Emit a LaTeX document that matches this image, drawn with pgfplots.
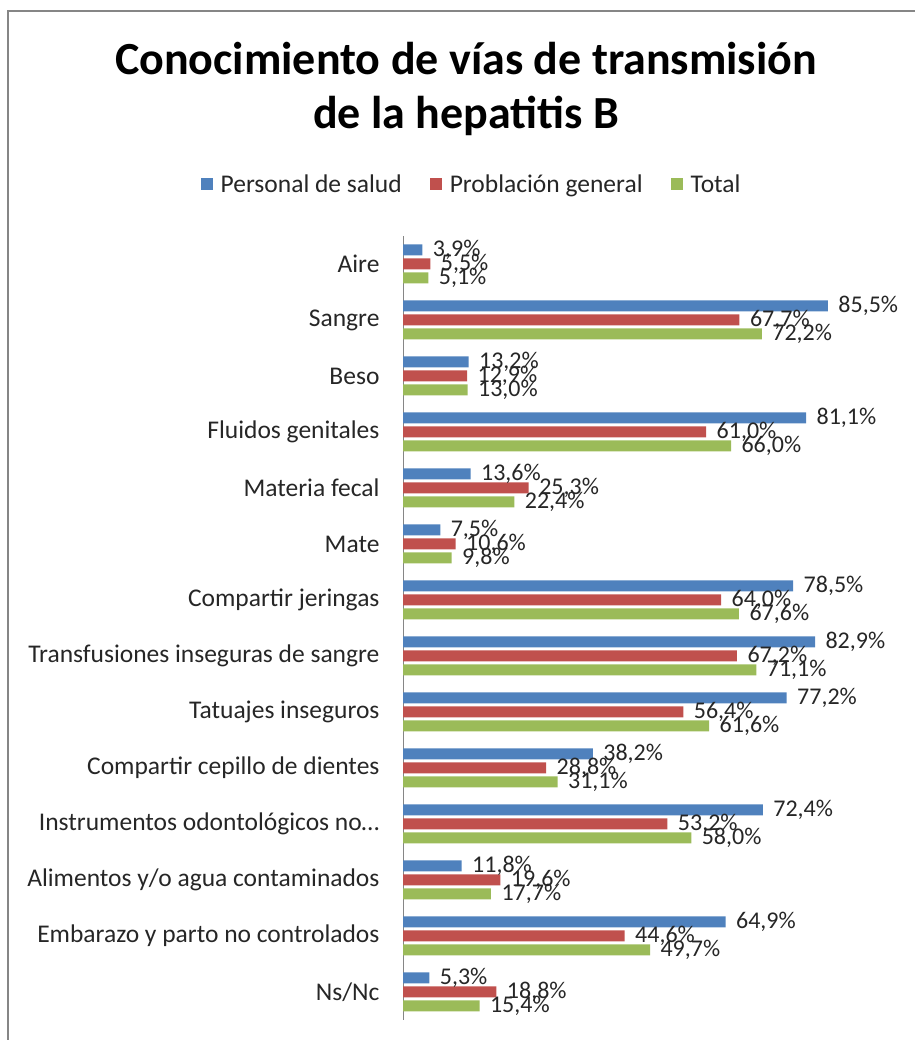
\documentclass[border=0pt]{standalone}
\usepackage{pgfplots}
\pgfplotsset{compat=1.18}
\usepackage{pgfplotstable}
\usepackage{fontspec}
\setmainfont{Carlito}
\definecolor{cblue}{HTML}{4F81BD}
\definecolor{cred}{HTML}{C0504D}
\definecolor{cgreen}{HTML}{9BBB59}
\definecolor{cborder}{HTML}{868686}
\pgfplotstableread{
y pers pob tot
13 3.9 5.5 5.1
12 85.5 67.7 72.2
11 13.2 12.9 13.0
10 81.1 61.0 66.0
9 13.6 25.3 22.4
8 7.5 10.6 9.8
7 78.5 64.0 67.6
6 82.9 67.2 71.1
5 77.2 56.4 61.6
4 38.2 28.8 31.1
3 72.4 53.2 58.0
2 11.8 19.6 17.7
1 64.9 44.6 49.7
0 5.3 18.8 15.4
}\data
\begin{document}
\begin{tikzpicture}[x=1pt,y=1pt]
\path[use as bounding box] (0,0) rectangle (915,1040);
\draw[color=cborder, line width=2pt] (8.3,0) -- (8.3,1029) -- (915,1029);
\node[font=\fontsize{46}{54}\selectfont\bfseries, align=center] at (466,951) {Conocimiento de vías de transmisión\\de la hepatitis B};
\begin{axis}[
  at={(403pt,20pt)}, anchor=south west,
  scale only axis, width=497pt, height=784pt,
  xmin=0, xmax=100, ymin=-0.5, ymax=13.5,
  xbar, bar width=11pt,
  axis x line=none,
  axis y line=left,
  axis line style={-, draw=cborder, line width=1pt},
  ytick={0,...,13},
  yticklabels={Ns/Nc,Embarazo y parto no controlados,Alimentos y/o agua contaminados,Instrumentos odontológicos no…,Compartir cepillo de dientes,Tatuajes inseguros,Transfusiones inseguras de sangre,Compartir jeringas,Mate,Materia fecal,Fluidos genitales,Beso,Sangre,Aire},
  major tick length=0pt,
  yticklabel style={font=\fontsize{25.5}{30}\selectfont, text=black!85, xshift=-20pt},
  point meta=x,
  nodes near coords={\pgfmathprintnumber[fixed,fixed zerofill,precision=1,use comma,assume math mode=true]{\pgfplotspointmeta}\%},
  nodes near coords style={font=\fontsize{24}{28}\selectfont, text=black!85, anchor=west, xshift=7pt},
  legend style={at={(0.138,1.066)}, anchor=center, legend columns=-1, draw=none, font=\fontsize{25.5}{30}\selectfont, text=black!85, /tikz/every even column/.append style={column sep=26pt}},
  legend image code/.code={\fill[#1] (0pt,-6pt) rectangle (12pt,6pt); \path (18pt,0pt);},
]
\addplot[fill=cblue, draw=none, bar shift=14pt] table[x=pers,y=y]{\data};
\addplot[fill=cred, draw=none, bar shift=0pt] table[x=pob,y=y]{\data};
\addplot[fill=cgreen, draw=none, bar shift=-14pt] table[x=tot,y=y]{\data};
\legend{Personal de salud,Problación general,Total}
\end{axis}
\end{tikzpicture}
\end{document}
